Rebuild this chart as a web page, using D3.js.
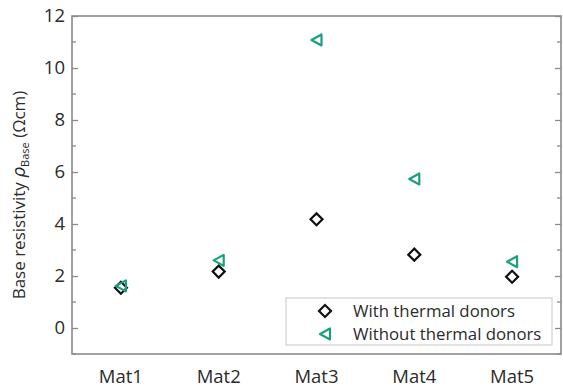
<!DOCTYPE html>
<html>
<head>
<meta charset="utf-8">
<script src="https://cdn.jsdelivr.net/npm/d3@7"></script>
<style>
  body { margin: 0; background: #fff; }
  svg { display: block; font-family: "Open Sans", "Noto Sans", sans-serif; }
</style>
</head>
<body>
<div id="chart"></div>
<script>
// data
const materials = ['Mat1', 'Mat2', 'Mat3', 'Mat4', 'Mat5']
const withDonors = [1.55, 2.17, 4.18, 2.82, 1.97]
const withoutDonors = [1.62, 2.6, 11.08, 5.73, 2.55]
const yTicks = [0, 2, 4, 6, 8, 10, 12]
const yMinor = [-1, 1, 3, 5, 7, 9, 11]
const legendLabels = ['With thermal donors', 'Without thermal donors']

const MARGIN = { TOP: 16, BOTTOM: 35, LEFT: 72, RIGHT: 2 }
const WIDTH = 563 - MARGIN.LEFT - MARGIN.RIGHT
const HEIGHT = 389 - MARGIN.TOP - MARGIN.BOTTOM
const TEAL = '#1aa07f'
const FRAME = '#8a8a8a'
const TEXT = '#2b2b2b'

const svg = d3.select('#chart').append('svg')
  .attr('width', 563)
  .attr('height', 389)

const g = svg.append('g')
  .attr('transform', `translate(${MARGIN.LEFT}, ${MARGIN.TOP})`)

// scales
const x = d3.scaleBand()
  .domain(materials)
  .range([0, WIDTH])

const y = d3.scaleLinear()
  .domain([-1, 12])
  .range([HEIGHT, 0])

// left axis, ticks pointing inward
const yLeft = g.append('g')
  .call(d3.axisLeft(y).tickValues(yTicks).tickSize(-6).tickPadding(7))
yLeft.select('.domain').remove()
yLeft.selectAll('.tick line').attr('stroke', FRAME).attr('stroke-width', 1.3)
yLeft.selectAll('.tick text')
  .attr('font-size', 18.5)
  .attr('fill', TEXT)
  .attr('font-family', '"Open Sans", sans-serif')
// minor ticks
g.append('g').selectAll('line').data(yMinor).join('line')
  .attr('x1', 0).attr('x2', 4)
  .attr('y1', d => y(d)).attr('y2', d => y(d))
  .attr('stroke', FRAME).attr('stroke-width', 1.3)

// right axis (ticks only)
const yRight = g.append('g')
  .attr('transform', `translate(${WIDTH}, 0)`)
  .call(d3.axisRight(y).tickValues(yTicks).tickSize(-6).tickFormat(''))
yRight.select('.domain').remove()
yRight.selectAll('.tick line').attr('stroke', FRAME).attr('stroke-width', 1.3)
g.append('g').selectAll('line').data(yMinor).join('line')
  .attr('x1', WIDTH).attr('x2', WIDTH - 4)
  .attr('y1', d => y(d)).attr('y2', d => y(d))
  .attr('stroke', FRAME).attr('stroke-width', 1.3)

// bottom axis, category labels only
const xAxis = g.append('g')
  .attr('transform', `translate(0, ${HEIGHT})`)
  .call(d3.axisBottom(x).tickSize(0).tickPadding(16))
xAxis.select('.domain').remove()
xAxis.selectAll('.tick text')
  .attr('font-size', 18.5)
  .attr('fill', TEXT)
  .attr('font-family', '"Open Sans", sans-serif')

// frame
g.append('rect')
  .attr('width', WIDTH)
  .attr('height', HEIGHT)
  .attr('fill', 'none')
  .attr('stroke', FRAME)
  .attr('stroke-width', 1.6)

// y label
const yLabel = g.append('text')
  .attr('transform', `translate(-47, ${HEIGHT / 2 + 10}) rotate(-90)`)
  .attr('text-anchor', 'middle')
  .attr('font-size', 17)
  .attr('fill', TEXT)
yLabel.append('tspan').text('Base resistivity ')
yLabel.append('tspan').attr('font-style', 'italic').attr('font-family', '"DejaVu Sans", sans-serif').text('ρ')
yLabel.append('tspan').attr('font-size', 11).attr('dy', 4).text('Base')
yLabel.append('tspan').attr('dy', -4).text(' (Ωcm)')

// markers
const diamond = d3.symbol().type(d3.symbolSquare).size(72)
const triangle = 'M-5,0L5,-5.5L5,5.5Z'
const cx = m => x(m) + x.bandwidth() / 2

g.append('g').selectAll('path').data(materials).join('path')
  .attr('d', diamond)
  .attr('transform', (d, i) => `translate(${cx(d)}, ${y(withDonors[i])}) rotate(45)`)
  .attr('fill', 'none')
  .attr('stroke', '#111')
  .attr('stroke-width', 2.2)

g.append('g').selectAll('path').data(materials).join('path')
  .attr('d', triangle)
  .attr('transform', (d, i) => `translate(${cx(d)}, ${y(withoutDonors[i])})`)
  .attr('fill', 'none')
  .attr('stroke', TEAL)
  .attr('stroke-width', 2.2)
  .attr('stroke-linejoin', 'round')

// legend
const legend = svg.append('g').attr('transform', 'translate(286, 298)')
legend.append('rect')
  .attr('width', 266)
  .attr('height', 47)
  .attr('fill', '#fff')
  .attr('stroke', '#d0d0d0')
  .attr('stroke-width', 1.2)

legendLabels.forEach((label, i) => {
  const row = legend.append('g').attr('transform', `translate(39, ${13 + i * 23})`)
  if (i === 0) {
    row.append('path').attr('d', diamond).attr('transform', 'rotate(45)')
      .attr('fill', 'none').attr('stroke', '#111').attr('stroke-width', 2.2)
  } else {
    row.append('path').attr('d', triangle)
      .attr('fill', 'none').attr('stroke', TEAL).attr('stroke-width', 2.2)
      .attr('stroke-linejoin', 'round')
  }
  row.append('text')
    .attr('x', 28)
    .attr('dy', '0.35em')
    .attr('font-size', 16.8)
    .attr('fill', TEXT)
    .text(label)
})
</script>
</body>
</html>
